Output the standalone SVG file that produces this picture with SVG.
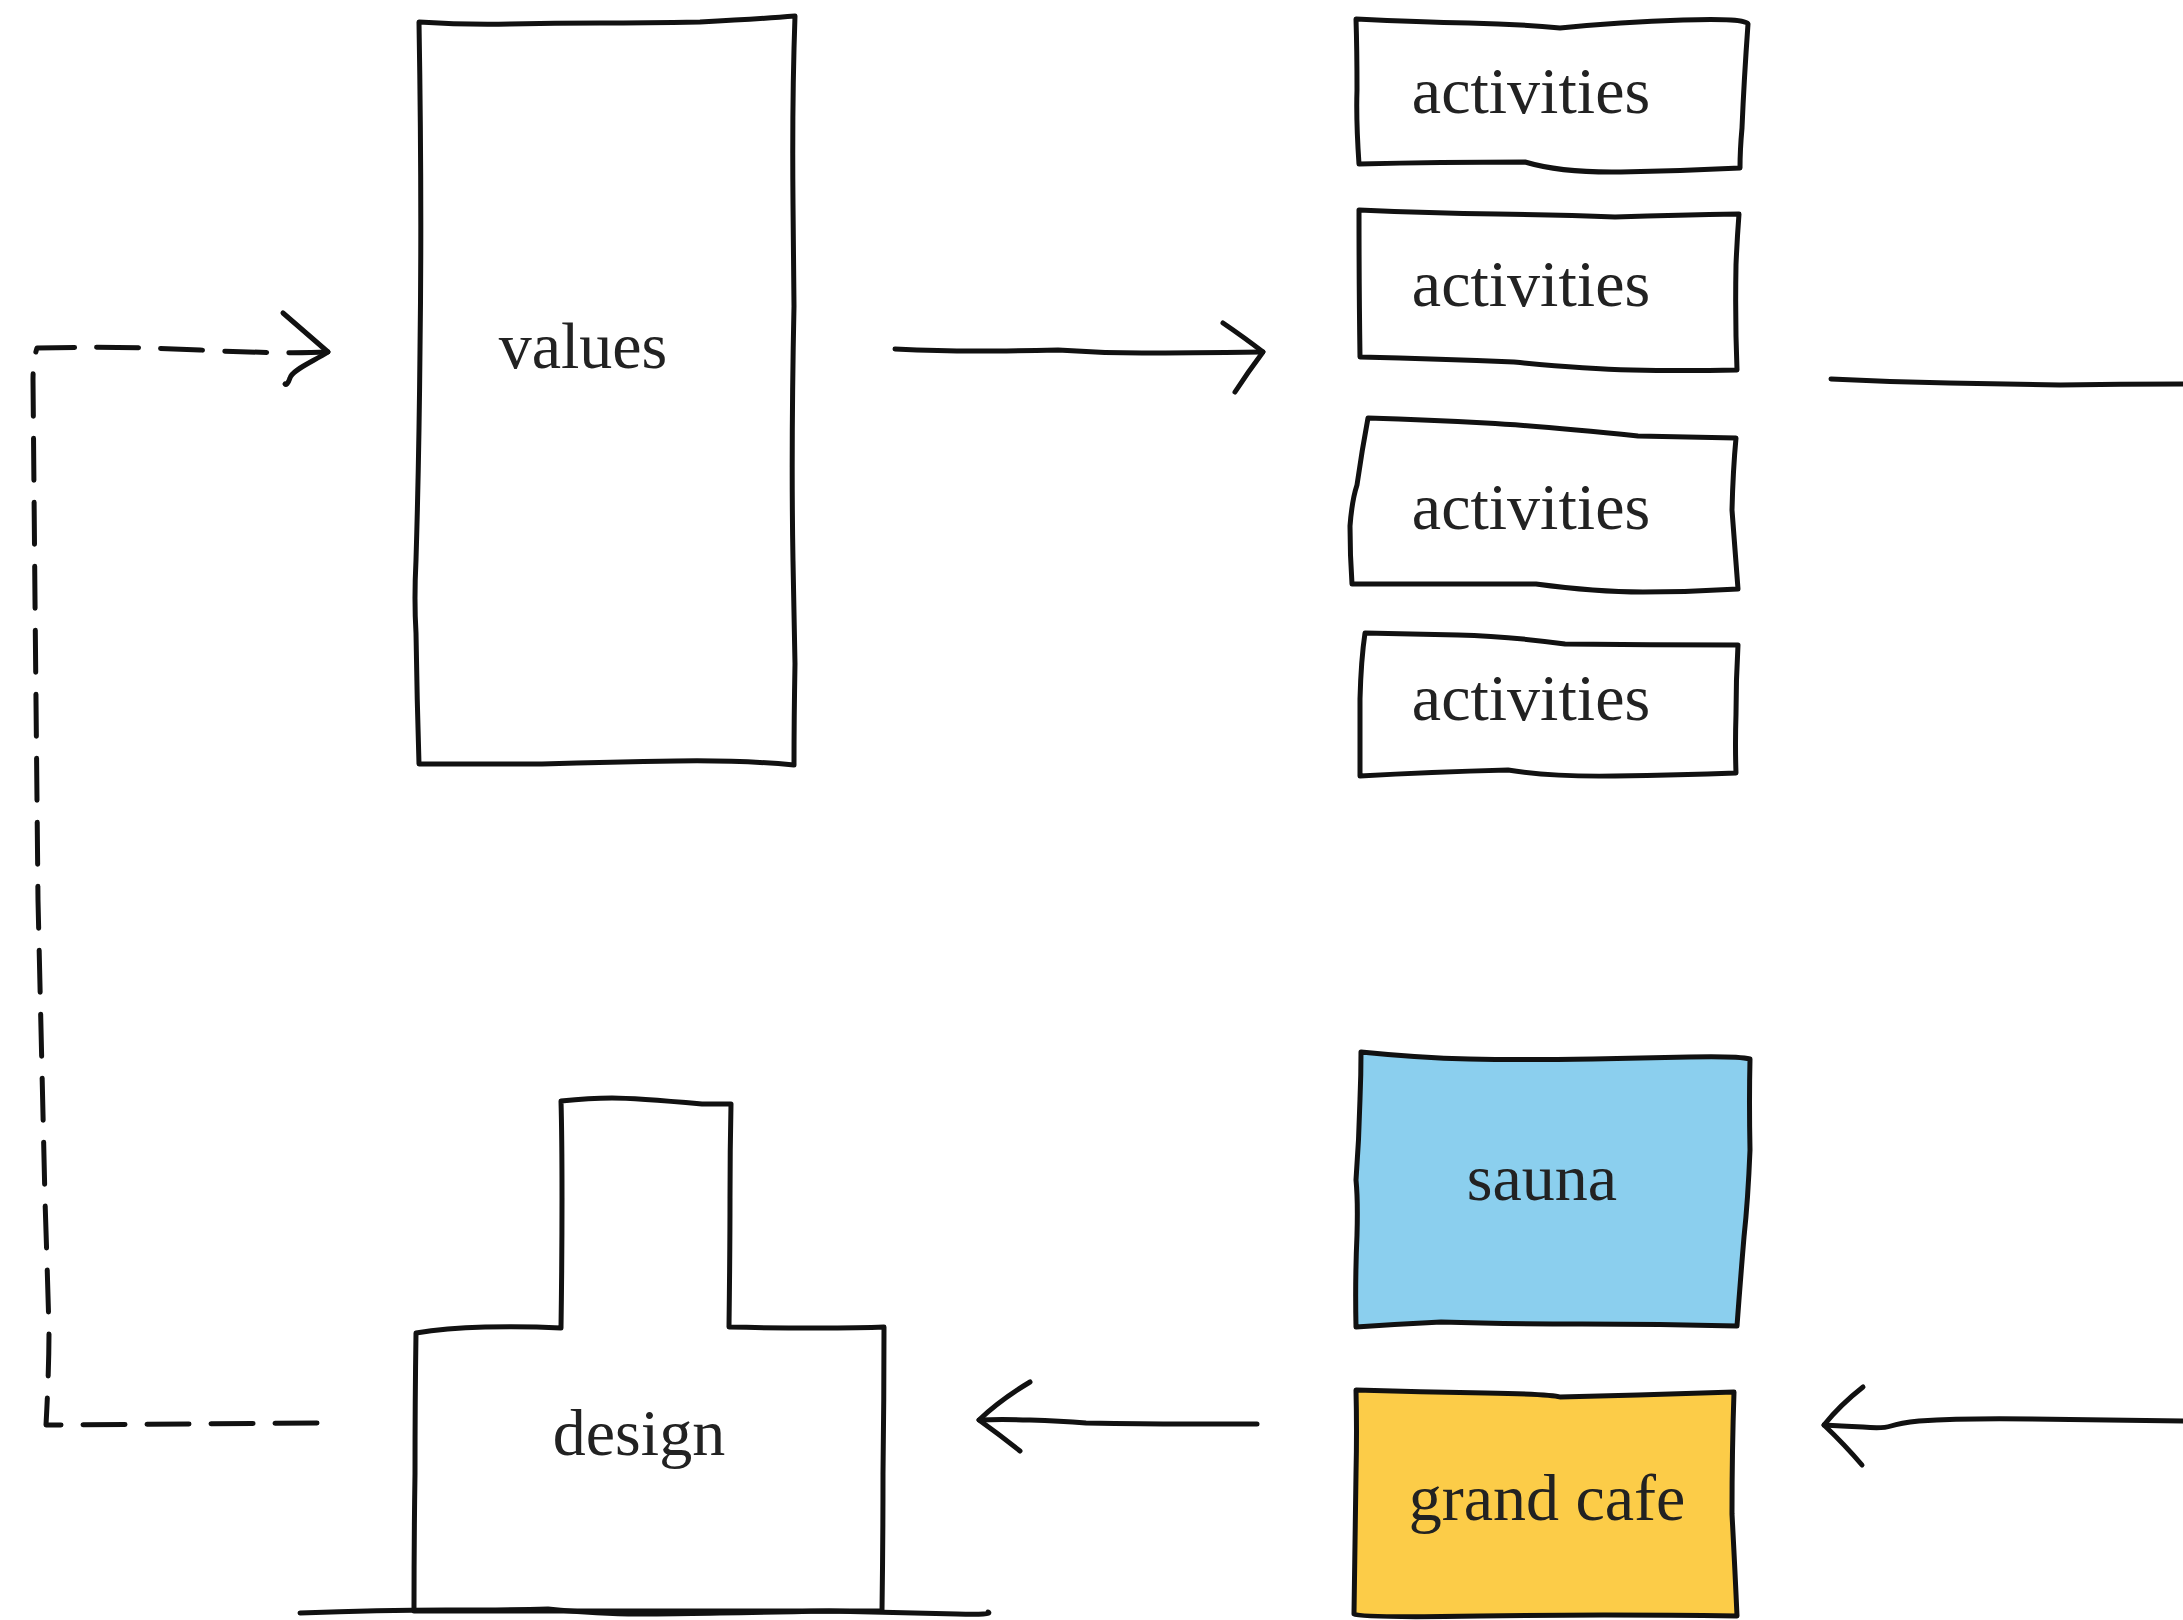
<svg xmlns="http://www.w3.org/2000/svg" width="2183" height="1620" viewBox="0 0 2183 1620">
<style>
.ln{fill:none;stroke:#111;stroke-width:5;stroke-linecap:round;stroke-linejoin:round}
.bx{fill:#fff;stroke:#111;stroke-width:5;stroke-linecap:round;stroke-linejoin:round}
.blue{fill:#8bcfee}
.yellow{fill:#fccc48}
.lbl{font-family:"Liberation Serif","Times New Roman",serif;font-size:66px;fill:#222;text-anchor:middle}
.dash{stroke-dasharray:42 22}
</style>
<rect width="2183" height="1620" fill="#fff"/>
<g id="values">
<path class="bx" d="M419,22 Q465,25 510,24 T600,23 T700,22 Q760,19 795,16 Q792,100 793,204 T794,306 Q791,450 793,561 T795,663 Q794,720 794,765 Q740,760 676,761 T542,764 L419,764 Q417,700 416,633 Q414,600 416,560 Q419,460 420,350 Q422,200 419,22 Z"/>
<text class="lbl" x="583" y="368">values</text>
</g>
<g id="activities1">
<path class="bx" d="M1356,19 Q1420,22 1469,23 T1560,28 Q1620,22 1683,20 T1748,24 Q1744,80 1742,128 Q1740,150 1740,168 Q1680,171 1621,172 T1525,162 Q1440,162 1359,164 Q1356,120 1357,90 Q1357,50 1356,19 Z"/>
<text class="lbl" x="1531" y="113">activities</text>
</g>
<g id="activities2">
<path class="bx" d="M1359,210 Q1430,213 1497,214 T1615,217 Q1680,215 1739,214 Q1737,240 1736,265 Q1735,320 1737,370 Q1680,371 1632,370 T1514,362 Q1440,359 1360,357 Q1359,290 1359,210 Z"/>
<text class="lbl" x="1531" y="306">activities</text>
</g>
<g id="activities3">
<path class="bx" d="M1368,418 Q1430,420 1486,423 T1638,436 Q1690,437 1736,438 Q1733,470 1732,510 Q1735,550 1738,589 Q1690,592 1643,592 T1536,584 Q1440,584 1352,584 Q1350,555 1350,526 Q1352,500 1357,485 Q1362,450 1368,418 Z"/>
<text class="lbl" x="1531" y="529">activities</text>
</g>
<g id="activities4">
<path class="bx" d="M1365,633 Q1410,634 1458,635 T1565,644 Q1650,645 1738,645 Q1736,680 1736,714 Q1735,745 1736,773 Q1680,775 1615,776 T1508,770 Q1430,772 1360,776 Q1360,740 1360,699 Q1361,660 1365,633 Z"/>
<text class="lbl" x="1531" y="720">activities</text>
</g>
<g id="sauna">
<path class="bx blue" d="M1361,1052 Q1420,1058 1469,1059 T1593,1059 Q1640,1058 1689,1057 T1750,1059 Q1749,1100 1750,1150 Q1748,1200 1744,1237 Q1740,1285 1737,1326 Q1660,1324 1582,1324 T1441,1322 Q1400,1324 1356,1327 Q1355,1280 1357,1235 Q1358,1200 1356,1180 Q1359,1140 1360,1099 Q1361,1075 1361,1052 Z"/>
<text class="lbl" x="1542" y="1200">sauna</text>
</g>
<g id="grand-cafe">
<path class="bx yellow" d="M1356,1390 Q1420,1392 1486,1393 T1560,1397 Q1600,1396 1638,1395 T1734,1392 Q1732,1450 1732,1514 Q1735,1570 1737,1616 Q1600,1614 1480,1616 T1354,1614 Q1355,1540 1356,1474 Q1357,1430 1356,1390 Z"/>
<text class="lbl" x="1547" y="1520">grand cafe</text>
</g>
<g id="design">
<path class="bx" d="M561,1101 Q590,1098 612,1098 T702,1104 L731,1104 Q730,1150 730,1198 T729,1327 Q770,1328 816,1328 T884,1327 Q884,1400 883,1474 Q883,1540 882,1611 L414,1611 Q414,1540 415,1474 Q415,1400 416,1333 Q445,1328 485,1327 T561,1328 Q562,1260 562,1198 T561,1101 Z"/>
<path class="ln" d="M300,1613 Q380,1610 446,1610 T548,1609 Q600,1614 638,1614 T829,1611 Q920,1613 957,1614 T988,1612"/>
<text class="lbl" x="639" y="1455">design</text>
</g>
<g id="connectors">
<path class="ln" d="M895,349 Q940,351 975,351 T1058,350 Q1100,353 1142,353 T1263,352"/>
<path class="ln" d="M1223,323 Q1245,338 1263,352 Q1248,372 1235,392"/>
<path class="ln" d="M1831,379 Q1890,382 1949,383 T2060,385 Q2120,384 2183,384"/>
<path class="ln" d="M2183,1421 Q2100,1420 2032,1419 T1919,1421 Q1900,1423 1891,1426 T1863,1427 Q1840,1426 1824,1425"/>
<path class="ln" d="M1863,1387 Q1840,1405 1824,1425 Q1845,1445 1862,1465"/>
<path class="ln" d="M1257,1424 Q1220,1424 1183,1424 T1086,1423 Q1060,1421 1030,1420 T979,1420"/>
<path class="ln" d="M1030,1382 Q1000,1400 979,1420 Q1000,1435 1020,1451"/>
<path class="ln dash" d="M317,1423 L46,1425 Q49,1370 49,1330 Q47,1260 45,1200 L38,900 L35,600 L33,380 Q33,360 37,348 Q120,346 200,350 T328,352"/>
<path class="ln" d="M283,313 L328,352 C312,362 292,370 290,378 C288,384 286,385 285,384"/>
</g>
</svg>
